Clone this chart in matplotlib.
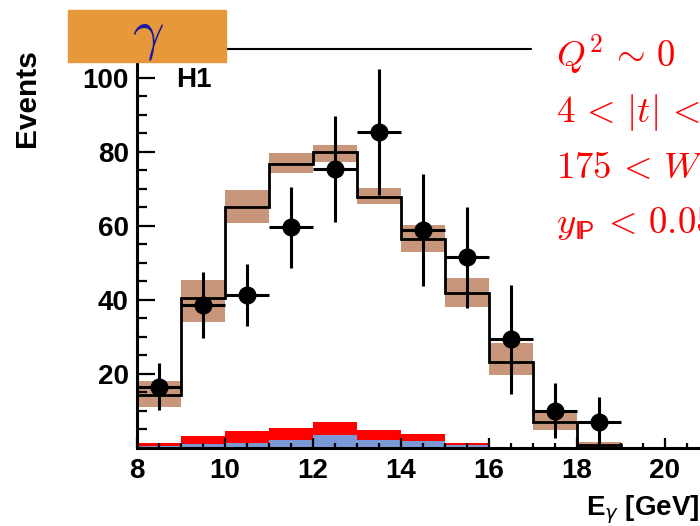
import numpy as np
import matplotlib
matplotlib.use("Agg")
import matplotlib.pyplot as plt
from matplotlib.patches import Rectangle
from matplotlib.ticker import MultipleLocator

plt.rcParams['font.family'] = ['Liberation Sans', 'DejaVu Sans']

# bins in E_gamma (GeV)
edges = [8, 9, 10, 11, 12, 13, 14, 15, 16, 17, 18, 19, 20, 21]
mc_total = [14.3, 40.5, 65.0, 76.8, 80.0, 67.8, 56.6, 41.8, 23.2, 6.9, 0.8, 0.0, 0.0]
band_lo = [11.1, 34.0, 60.8, 74.3, 77.3, 66.0, 53.0, 38.0, 19.7, 4.9, 0.0, 0.0, 0.0]
band_hi = [18.1, 45.4, 69.7, 79.7, 81.9, 70.3, 60.3, 45.9, 28.4, 10.0, 1.5, 0.0, 0.0]
bkg_red = [1.4, 3.2, 4.6, 5.4, 7.0, 4.9, 3.8, 1.4, 0.3, 0.3, 0.3, 0.3, 0.3]
bkg_blue = [0.6, 1.1, 1.4, 2.2, 3.5, 2.2, 1.8, 0.8, 0.3, 0.3, 0.3, 0.3, 0.3]

# data points
data_x = [8.5, 9.5, 10.5, 11.5, 12.5, 13.5, 14.5, 15.5, 16.5, 17.5, 18.5]
data_y = [16.5, 38.6, 41.4, 59.7, 75.4, 85.3, 58.9, 51.6, 29.5, 10.0, 7.0]
err_up = [6.5, 9.0, 8.3, 10.8, 14.3, 17.2, 15.0, 13.4, 14.5, 7.5, 6.8]
err_dn = [6.2, 8.9, 8.4, 11.1, 14.3, 17.0, 15.1, 13.8, 14.9, 7.3, 7.0]

W, H = 700, 526
fig = plt.figure(figsize=(7, 5.26), dpi=100)
ax = fig.add_axes([137 / W, 1 - 448 / H, (709 - 137) / W, (448 - 49) / H])

ax.stairs(bkg_red, edges, baseline=0, fill=True, color='#ff0000', lw=0)
ax.stairs(bkg_blue, edges, baseline=0, fill=True, color='#7b9ad5', lw=0)
ax.stairs(band_hi, edges, baseline=band_lo, fill=True, color='#c8967a', lw=0)
ax.stairs(mc_total, edges, color='black', lw=2.0)
ax.errorbar(data_x, data_y, yerr=[err_dn, err_up], xerr=0.5, fmt='o',
            color='black', ms=12, elinewidth=2.2, capsize=0)

ax.set_xlim(8, 21)
ax.set_ylim(0, 107.8)
ax.xaxis.set_major_locator(MultipleLocator(2))
ax.xaxis.set_minor_locator(MultipleLocator(0.5))
ax.yaxis.set_major_locator(MultipleLocator(20))
ax.yaxis.set_minor_locator(MultipleLocator(5))
ax.set_yticks([20, 40, 60, 80, 100])
ax.tick_params(axis='both', which='both', direction='in', labelsize=20,
               top=False, right=False, width=1.6)
ax.tick_params(axis='y', which='major', length=13, pad=6)
ax.tick_params(axis='y', which='minor', length=7.2)
ax.tick_params(axis='x', which='major', length=7.2, pad=7)
ax.tick_params(axis='x', which='minor', length=3.6)
for lab in ax.get_xticklabels() + ax.get_yticklabels():
    lab.set_fontweight('bold')
ax.spines['left'].set_linewidth(2.2)
ax.spines['bottom'].set_linewidth(2.2)
ax.spines['top'].set_linewidth(1.5)
ax.spines['right'].set_visible(False)

# axis titles
fig.text(27 / W, 1 - 49 / H, 'Events', rotation=90, ha='center', va='top',
         fontsize=21.5, fontweight='bold')
fig.text(699 / W, 1 - 515 / H, r'E$_{\gamma}$ [GeV]', ha='right', va='baseline',
         fontsize=20, fontweight='bold', math_fontfamily='dejavusans')
fig.text(176 / W, 1 - 87 / H, 'H1', ha='left', va='baseline',
         fontsize=20, fontweight='bold')

# orange label box with gamma
fig.add_artist(Rectangle((68 / W, 1 - 62 / H), 158 / W, 52 / H,
                         transform=fig.transFigure, color='#e6983a', zorder=10))
fig.text(148 / W, 1 - 37 / H, r'$\gamma$', ha='center', va='center', fontsize=40,
         color='#1a1aa0', math_fontfamily='cm', zorder=11)

# white box behind cut text (beamer style: sans digits, CM italic letters)
fig.add_artist(Rectangle((532 / W, 1 - 250 / H), 170 / W, 250 / H,
                         transform=fig.transFigure, color='white', zorder=10))
cuts = [r'$Q^{\mathsf{2}} \,\sim\, \mathsf{0}$',
        r'$\mathsf{4} \,<\, |t| \,<\, \mathsf{18\ GeV}^{\mathsf{2}}$',
        r'$\mathsf{175} \,<\, W \,<\, \mathsf{247\ GeV}$',
        r'$y_{\mathsf{I\!P}} \,<\, \mathsf{0.05}$']
baselines = [67, 123, 178, 233]
for txt, yb in zip(cuts, baselines):
    fig.text(556 / W, 1 - yb / H, txt, ha='left', va='baseline', fontsize=26.5,
             color='#ff0000', math_fontfamily='cm', zorder=11)

fig.savefig('out.png', dpi=100)
